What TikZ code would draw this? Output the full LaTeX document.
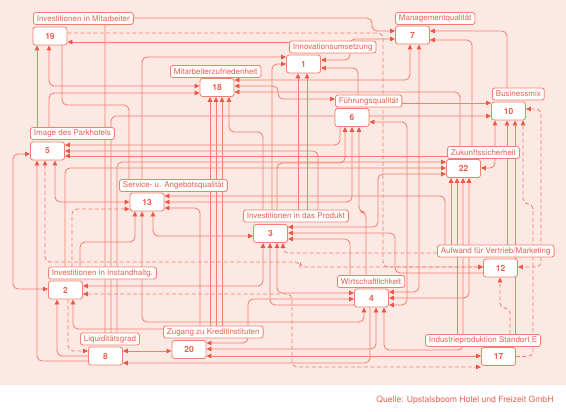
\documentclass[tikz,border=0pt]{standalone}
\usepackage{fontspec}
\setmainfont{TeX Gyre Heros}
\usetikzlibrary{arrows.meta}
\pgfdeclarelayer{bg}
\pgfdeclarelayer{edges}
\pgfsetlayers{bg,edges,main}
\definecolor{bgpink}{HTML}{FDE9E3}
\definecolor{linered}{HTML}{F2806F}
\definecolor{arrred}{HTML}{EC5646}
\definecolor{txtred}{HTML}{E8604F}

\begin{document}
\begin{tikzpicture}[x=1pt,y=-1pt]
			\tikzstyle{factor}=[draw=linered,fill=white,rounded corners=2.5pt,line width=0.85pt,minimum width=34pt,minimum height=18pt,inner sep=0pt,text=txtred,font=\fontsize{8.5}{9}\selectfont\bfseries]
			\tikzstyle{factorname}=[draw=linered,fill=white,rounded corners=2.5pt,line width=0.85pt,anchor=west,minimum height=12pt,inner xsep=3.5pt,inner ysep=0pt,text=txtred,font=\fontsize{8}{9}\selectfont]
			\tikzstyle{link}=[draw=linered,line width=0.85pt,rounded corners=5pt]
			\tikzstyle{arr}=[link,-{Triangle[length=5pt,width=4.5pt,color=arrred]}]
			\tikzstyle{biarr}=[link,{Triangle[length=5pt,width=4.5pt,color=arrred]}-{Triangle[length=5pt,width=4.5pt,color=arrred]}]
			\tikzstyle{dsh}=[dash pattern=on 4pt off 2.5pt]
			\useasboundingbox (0,0) rectangle (566,412);
			\begin{pgfonlayer}{bg}
				\fill[bgpink] (0,0) rectangle (566,385);
			\end{pgfonlayer}
				% factors
				\node[factor](n19) at (50,36){19};
				\node[factor](n7) at (412.5,35){7};
				\node[factor](n1) at (303.5,64){1};
				\node[factor](n18) at (217,87.5){18};
				\node[factor](n6) at (352,117.5){6};
				\node[factor](n10) at (508.5,111){10};
				\node[factor](n5) at (47.5,151){5};
				\node[factor](n13) at (147,202){13};
				\node[factor](n22) at (463.5,168.5){22};
				\node[factor](n3) at (270.5,233.5){3};
				\node[factor](n12) at (500.5,268){12};
				\node[factor](n2) at (65.5,290){2};
				\node[factor](n4) at (371.5,298){4};
				\node[factor](n8) at (105.5,356){8};
				\node[factor](n20) at (189,349.5){20};
				\node[factor](n17) at (498.5,356.5){17};
				% names
				\node[factorname](l19) at (33,18.5){Investitionen in Mitarbeiter};
				\node[factorname](l7) at (395,18.5){Managementqualität};
				\node[factorname](l1) at (289,47){Innovationsumsetzung};
				\node[factorname](l18) at (170,71.5){Mitarbeiterzufriedenheit};
				\node[factorname](l6) at (335,101){Führungsqualität};
				\node[factorname](l10) at (492,94){Businessmix};
				\node[factorname](l5) at (30,133.5){Image des Parkhotels};
				\node[factorname](l13) at (119,185.5){Service- u. Angebotsqualität};
				\node[factorname](l22) at (447,152.5){Zukunftssicherheit};
				\node[factorname](l3) at (243,216){Investitionen in das Produkt};
				\node[factorname](l12) at (437,251){Aufwand für Vertrieb/Marketing};
				\node[factorname](l2) at (48,273){Investitionen in Instandhaltg.};
				\node[factorname](l4) at (337,281.5){Wirtschaftlichkeit};
				\node[factorname](l8) at (80,339){Liquiditätsgrad};
				\node[factorname](l20) at (163,332){Zugang zu Kreditinstituten};
				\node[factorname](l17) at (425,340.5){Industrieproduktion Standort E};
				\node[anchor=east,text=txtred,font=\fontsize{8.6}{10}\selectfont](src) at (557,400){Quelle: Upstalsboom Hotel und Freizeit GmbH};
			\begin{pgfonlayer}{edges}
				% top
				\draw[arr] (l5.north -| 37,0) -- (n19.south -| 37,0);
				\draw[biarr] (n19.south -| 49,0) -- (49,86) -- (n18.west |- 0,86);
				\draw[arr] (l5.north -| 49,0) -- (49,93) -- (n18.west |- 0,93);
				\draw[link] (n19.south -| 62,0) -- (62,105) -- (129,105) -- (l13.north -| 129,0);
				\draw[arr] (l8.north -| 105,0) -- (105,18) -- (372,18) -- (372,31) -- (n7.west |- 0,31);
				\draw[arr,dsh] (n19.east |- 0,33) -- (383,33) -- (383,267) -- (n12.west |- 0,267);
				\draw[arr] (l1.west |- 0,42) -- (n19.east |- 0,42);
				% 1
				\draw[arr] (l13.north -| 142,0) -- (142,57) -- (n1.west |- 0,57);
				\draw[arr] (l3.north -| 272,0) -- (272,64) -- (n1.west |- 0,64);
				\draw[biarr] (n1.east |- 0,60) -- (350,60) -- (350,39) -- (n7.west |- 0,39);
				\draw[arr] (l6.north -| 358,0) -- (358,68) -- (n1.east |- 0,68);
				\draw[arr] (l3.north -| 298,0) -- (n1.south -| 298,0);
				\draw[arr] (l3.north -| 307,0) -- (n1.south -| 307,0);
				% 7
				\draw[biarr] (n7.south -| 410,0) -- (410,80) -- (n18.east |- 0,80);
				\draw[biarr] (n7.south -| 419,0) -- (419,292) -- (n4.east |- 0,292);
				\draw[arr] (l10.north -| 507,0) -- (507,31) -- (n7.east |- 0,31);
				\draw[arr] (l22.north -| 472,0) -- (472,40) -- (n7.east |- 0,40);
				% 10
				\draw[arr] (l6.east |- 0,103) -- (n10.west |- 0,103);
				\draw[arr] (l8.north -| 111,0) -- (111,116) -- (n10.west |- 0,116);
				\draw[biarr] (n10.south -| 495,0) -- (495,168) -- (n22.east |- 0,168);
				\draw[arr] (l12.north -| 507,0) -- (n10.south -| 507,0);
				\draw[arr] (l17.north -| 515,0) -- (n10.south -| 515,0);
				\draw[arr,dsh] (n17.east) -- (n17.east -| 533,0) -- (533,204) -- (523,204) -- (n10.south -| 523,0);
				\draw[biarr,dsh] (n10.east |- 0,109) -- (541,109) -- (541,267) -- (n12.east |- 0,267);
				\draw[arr,dsh] (l17.north -| 510,0) -- (510,308) -- (500,308) -- (n12.south -| 500,0);
				% 3
				\draw[biarr,dsh] (n2.east |- 0,294) -- (292,294) -- (292,367) -- (n17.west |- 0,367);
				\draw[biarr] (n3.south -| 263,0) -- (263,286) -- (n2.east |- 0,286);
				\draw[arr] (n4.west |- 0,305) -- (270,305) -- (n3.south -| 270,0);
				\draw[biarr] (n3.south -| 277,0) -- (277,293) -- (n4.west |- 0,293);
				\draw[arr,dsh] (l12.west |- 0,253) -- (283,253) -- (n3.south -| 283,0);
				\draw[biarr] (n3.east |- 0,227) -- (378,227) -- (378,174) -- (n22.west |- 0,174);
				\draw[arr] (n12.west |- 0,273) -- (395,273) -- (395,233) -- (n3.east |- 0,233);
				\draw[arr] (l4.north -| 350,0) -- (350,239) -- (n3.east |- 0,239);
				\draw[arr] (l3.north -| 277,0) -- (277,163) -- (345,163) -- (n6.south -| 345,0);
				\draw[arr] (l3.north -| 263,0) -- (263,132) -- (229,132) -- (n18.south -| 229,0);
				\draw[arr] (l3.north -| 318,0) -- (318,151) -- (n5.east |- 0,151);
				% 5
				\draw[biarr] (n5.west |- 0,154) -- (13,154) -- (13,289) -- (n2.west |- 0,289);
				\draw[biarr] (n5.south -| 55,0) -- (55,202) -- (n13.west |- 0,202);
				\draw[biarr,dsh] (n5.south -| 45,0) -- (45,262) -- (300,262) -- (300,267) -- (n12.west |- 0,267);
				\draw[arr] (n6.south -| 340,0) -- (340,145) -- (n5.east |- 0,145);
				\draw[arr] (l22.west |- 0,156) -- (n5.east |- 0,156);
				% 13
				\draw[arr,dsh] (l2.north -| 72,0) -- (72,209) -- (n13.west |- 0,209);
				\draw[arr] (l2.north -| 80,0) -- (80,242) -- (135,242) -- (n13.south -| 135,0);
				\draw[biarr] (n4.south -| 364,0) -- (364,322) -- (142,322) -- (n13.south -| 142,0);
				\draw[biarr] (n13.south -| 153,0) -- (153,236) -- (n3.west |- 0,236);
				\draw[biarr] (n6.south -| 352,0) -- (352,202) -- (n13.east |- 0,202);
				\draw[arr] (l12.north -| 445,0) -- (445,196) -- (n13.east |- 0,196);
				\draw[arr] (l20.north -| 200,0) -- (200,208) -- (n13.east |- 0,208);
				% 18
				\draw[biarr] (n18.east |- 0,86) -- (278,86) -- (278,99) -- (l6.west |- 0,99);
				\draw[arr] (l22.north -| 460,0) -- (460,92) -- (n18.east |- 0,92);
				\draw[arr] (l20.north -| 210,0) -- (n18.south -| 210,0);
				\draw[arr] (l20.north -| 216,0) -- (n18.south -| 216,0);
				\draw[arr] (l20.north -| 222,0) -- (n18.south -| 222,0);
				% 22
				\draw[arr] (l8.north -| 117,0) -- (117,162) -- (n22.west |- 0,162);
				\draw[arr] (l2.north -| 65,0) -- (65,168) -- (n22.west |- 0,168);
				\draw[arr] (l12.north -| 451,0) -- (n22.south -| 451,0);
				\draw[arr] (l17.north -| 457,0) -- (n22.south -| 457,0);
				\draw[biarr] (n4.south -| 384,0) -- (384,350) -- (463,350) -- (n22.south -| 463,0);
				\draw[biarr] (n22.south -| 469,0) -- (469,298) -- (n4.east |- 0,298);
				% 6, 4
				\draw[biarr] (n6.east |- 0,122) -- (407,122) -- (407,305) -- (n4.east |- 0,305);
				\draw[arr] (l4.north -| 366,0) -- (366,212) -- (359,212) -- (n6.south -| 359,0);
				% 8, 20, 17
				\draw[arr,dsh] (n2.south -| 68,0) -- (68,351) -- (n8.west |- 0,351);
				\draw[arr] (n8.west |- 0,356) -- (57,356) -- (n2.south -| 57,0);
				\draw[arr] (n8.west |- 0,361) -- (37,361) -- (n5.south -| 37,0);
				\draw[arr] (l20.west |- 0,329) -- (73,329) -- (n2.south -| 73,0);
				\draw[biarr] (n8.east |- 0,351) -- (n20.west |- 0,351);
				\draw[biarr] (n20.east |- 0,343) -- (248,343) -- (248,299) -- (n4.west |- 0,299);
				\draw[biarr] (n20.east |- 0,349) -- (376,349) -- (n4.south -| 376,0);
				\draw[biarr] (n20.east |- 0,356) -- (n17.west |- 0,356);
				\draw[arr] (n4.south -| 370,0) -- (370,363) -- (n8.east |- 0,363);
			\end{pgfonlayer}
			\end{tikzpicture}
\end{document}
